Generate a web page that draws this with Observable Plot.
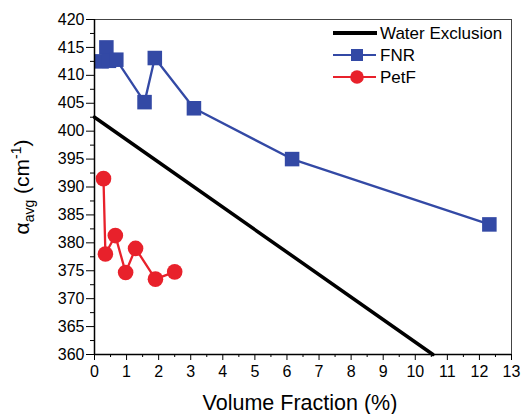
<!DOCTYPE html>
<html><head><meta charset="utf-8">
<script src="https://cdn.jsdelivr.net/npm/d3@7"></script>
<script src="https://cdn.jsdelivr.net/npm/@observablehq/plot@0.6"></script>
<style>body{margin:0;background:#fff}</style>
</head><body><div id="chart"></div>
<script>
// Data
const waterX = [0, 10.55];
const waterY = [402.5, 360];
const fnrX = [0.22, 0.37, 0.45, 0.68, 1.56, 1.88, 3.10, 6.16, 12.31];
const fnrY = [412.5, 415.0, 412.6, 412.8, 405.2, 413.1, 404.1, 395.0, 383.3];
const petfX = [0.28, 0.34, 0.65, 0.97, 1.28, 1.90, 2.50];
const petfY = [391.5, 378.0, 381.3, 374.7, 379.0, 373.5, 374.8];
const xTicks = d3.range(0, 14, 1);
const xMinor = d3.range(0.5, 13, 1);
const yTicks = d3.range(360, 421, 5);
const yMinor = d3.range(362.5, 420, 5);
const seriesNames = ["Water Exclusion", "FNR", "PetF"];

const blue = "#3349a5";
const red = "#e8212b";
const zip = (xs, ys) => xs.map((x, i) => ({x, y: ys[i]}));
const water = zip(waterX, waterY);
const fnr = zip(fnrX, fnrY);
const petf = zip(petfX, petfY);

const font = "'Liberation Sans', Arial, sans-serif";

const chart = Plot.plot({
  width: 522, height: 414,
  marginLeft: 94, marginRight: 11, marginTop: 19, marginBottom: 60,
  style: {fontFamily: font, fontSize: "16px", color: "#000", background: "#fff"},
  x: {domain: [0, 13], label: null},
  y: {domain: [360, 420], label: null},
  marks: [
    Plot.frame({stroke: "#444", strokeWidth: 1}),
    Plot.line(water, {x: "x", y: "y", stroke: "#000", strokeWidth: 3.5}),
    Plot.line(fnr, {x: "x", y: "y", stroke: blue, strokeWidth: 2.3}),
    Plot.dot(fnr, {x: "x", y: "y", symbol: "square", r: 8.2, fill: blue}),
    Plot.line(petf, {x: "x", y: "y", stroke: red, strokeWidth: 2.3}),
    Plot.dot(petf, {x: "x", y: "y", symbol: "circle", r: 7.8, fill: red}),
    Plot.axisX(xTicks, {tickSize: 6, tickPadding: 5, label: null, stroke: "#000"}),
    Plot.axisX(xMinor, {tickSize: 3, tickFormat: () => "", label: null, stroke: "#000"}),
    Plot.axisY(yTicks, {tickSize: 8, tickPadding: 2, label: null, stroke: "#000"}),
    Plot.axisY(yMinor, {tickSize: 4, tickFormat: () => "", label: null, stroke: "#000"}),
    Plot.ruleX([0], {stroke: "#000", strokeWidth: 1.5}),
    Plot.ruleY([360], {stroke: "#000", strokeWidth: 1.5})
  ]
});
document.getElementById("chart").appendChild(chart);

const svg = d3.select(chart);
// Axis titles
svg.append("text")
  .attr("x", 300).attr("y", 410)
  .attr("text-anchor", "middle")
  .attr("font-family", font).attr("font-size", 21.5).attr("fill", "#000")
  .text("Volume Fraction (%)");

const yl = svg.append("text")
  .attr("transform", "translate(29,187) rotate(-90)")
  .attr("text-anchor", "middle")
  .attr("font-family", font).attr("font-size", 21).attr("fill", "#000");
yl.append("tspan").text("α");
yl.append("tspan").attr("font-size", 14).attr("dy", 5).text("avg");
yl.append("tspan").attr("dy", -5).text(" (cm");
yl.append("tspan").attr("font-size", 14).attr("dy", -8).text("-1");
yl.append("tspan").attr("dy", 8).text(")");

// Legend
const lg = svg.append("g").attr("font-family", font).attr("font-size", 17).attr("fill", "#000")
  .attr("text-anchor", "start");
const rows = [33, 55, 77];
lg.append("line").attr("x1", 333).attr("x2", 377).attr("y1", rows[0]).attr("y2", rows[0])
  .attr("stroke", "#000").attr("stroke-width", 4);
lg.append("line").attr("x1", 333).attr("x2", 376).attr("y1", rows[1]).attr("y2", rows[1])
  .attr("stroke", blue).attr("stroke-width", 2);
lg.append("rect").attr("x", 351).attr("y", rows[1] - 6).attr("width", 12).attr("height", 12).attr("fill", blue);
lg.append("line").attr("x1", 333).attr("x2", 376).attr("y1", rows[2]).attr("y2", rows[2])
  .attr("stroke", red).attr("stroke-width", 2);
lg.append("circle").attr("cx", 357).attr("cy", rows[2]).attr("r", 6.8).attr("fill", red);
seriesNames.forEach((n, i) => {
  lg.append("text").attr("x", 380).attr("y", rows[i]).attr("dy", "0.35em").attr("text-anchor", "start").text(n);
});
</script>
</body></html>
